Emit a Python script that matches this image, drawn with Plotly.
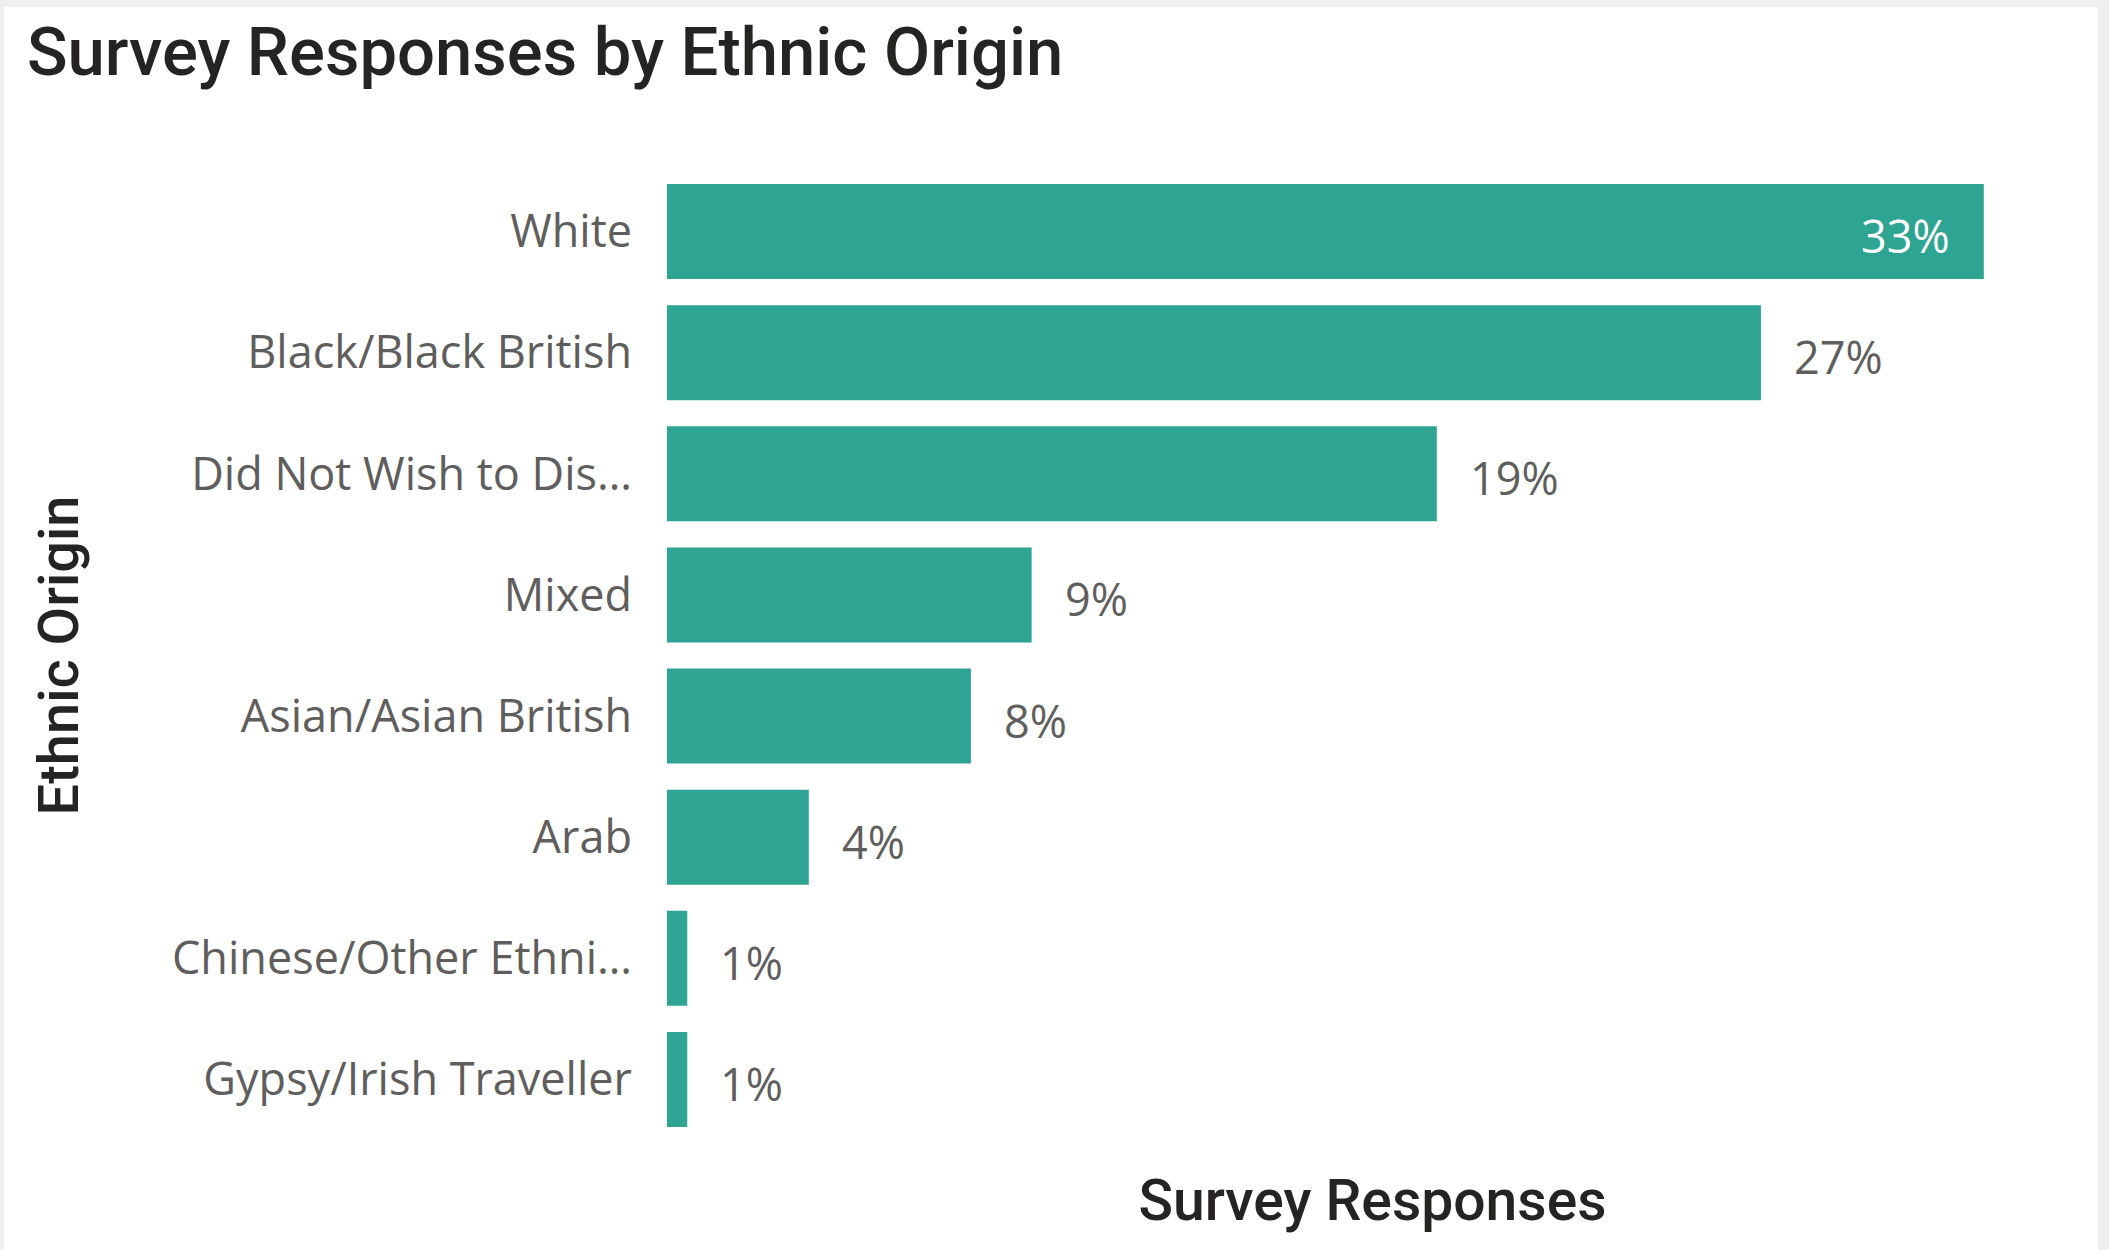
import plotly.graph_objects as go

# Survey responses by ethnic origin (counts of respondents)
categories = [
    "White",
    "Black/Black British",
    "Did Not Wish to Dis…",
    "Mixed",
    "Asian/Asian British",
    "Arab",
    "Chinese/Other Ethni…",
    "Gypsy/Irish Traveller",
]
responses = [65, 54, 38, 18, 15, 7, 1, 1]

total = sum(responses)
share = [r / total for r in responses]

X_MAX = 0.35
W, H = 2109, 1250
M_L, M_R, M_T, M_B = 667, 31, 171, 110

BAR_COLOR = "#2EA493"
LABEL_GRAY = "#605E5C"
DARK = "#252423"
HEAD_FONT = "DIN, Bahnschrift, Roboto, 'Liberation Sans Narrow', sans-serif"
BODY_FONT = "'Segoe UI', 'Open Sans', 'Noto Sans', sans-serif"

fig = go.Figure(
    go.Bar(
        x=share,
        y=categories,
        orientation="h",
        marker=dict(color=BAR_COLOR, line=dict(width=0)),
        hoverinfo="skip",
    )
)

# Data labels: outside the bar end, or inside (white) when there is no room
plot_w = W - M_L - M_R
annotations = []
for cat, s in zip(categories, share):
    label = f"{s:.0%}"
    room = (X_MAX - s) / X_MAX * plot_w
    inside = room < 130
    annotations.append(
        dict(
            x=s,
            y=cat,
            xref="x",
            yref="y",
            text=label,
            showarrow=False,
            xanchor="right" if inside else "left",
            xshift=-32 if inside else 31,
            yshift=-4,
            font=dict(family=BODY_FONT, size=45, color="white" if inside else LABEL_GRAY),
        )
    )

# White card on a light grey page
plot_h = H - M_T - M_B
card = dict(
    type="rect",
    xref="paper",
    yref="paper",
    x0=(4 - M_L) / plot_w,
    x1=(2098 - M_L) / plot_w,
    y0=-(M_B) / plot_h - 0.01,
    y1=(H - M_B - 7) / plot_h,
    fillcolor="white",
    line=dict(width=0),
    layer="below",
)

fig.update_layout(
    width=W,
    height=H,
    margin=dict(l=M_L, r=M_R, t=M_T, b=M_B, autoexpand=False),
    paper_bgcolor="#EFEFEF",
    plot_bgcolor="rgba(0,0,0,0)",
    showlegend=False,
    bargap=0.215,
    shapes=[card],
    annotations=annotations,
    title=dict(
        text="Survey Responses by Ethnic Origin",
        font=dict(family=HEAD_FONT, size=67, color=DARK, weight=500),
        x=27 / W,
        xanchor="left",
        xref="container",
        y=1 - 28 / H,
        yanchor="top",
        yref="container",
    ),
    xaxis=dict(
        range=[0, X_MAX],
        showgrid=False,
        zeroline=False,
        showline=False,
        showticklabels=False,
        ticks="",
        fixedrange=True,
        title=dict(
            text="Survey Responses",
            font=dict(family=HEAD_FONT, size=57, color=DARK, weight=500),
            standoff=40,
        ),
    ),
    yaxis=dict(
        autorange="reversed",
        showgrid=False,
        zeroline=False,
        showline=False,
        ticks="",
        ticklabelstandoff=34,
        tickfont=dict(family=BODY_FONT, size=45, color=LABEL_GRAY),
        fixedrange=True,
        title=dict(
            text="Ethnic Origin",
            font=dict(family=HEAD_FONT, size=56, color=DARK, weight=500),
            standoff=75,
        ),
    ),
)

fig.write_html("out.html")
